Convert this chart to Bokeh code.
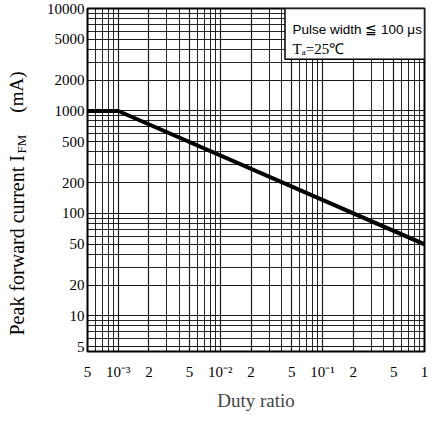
import math
from bokeh.plotting import figure
from bokeh.models import FixedTicker, Label, Range1d
from bokeh.layouts import row
from bokeh.core.properties import value
from bokeh.embed import file_html
from bokeh.resources import INLINE

# ---- data ----
duty = [5e-4, 1e-3, 1.0]
current = [1000, 1000, 50]

x_ticks = [5e-4, 1e-3, 2e-3, 5e-3, 1e-2, 2e-2, 5e-2, 1e-1, 2e-1, 5e-1, 1.0]
x_tick_labels = ["5", "10⁻³", "2", "5", "10⁻²", "2", "5", "10⁻¹", "2", "5", "1"]
y_ticks = [5, 10, 20, 50, 100, 200, 500, 1000, 2000, 5000, 10000]
y_tick_labels = ["5", "10", "20", "50", "100", "200", "500", "1000", "2000", "5000", "10000"]

x_minor = [m * 10.0 ** e for e in range(-4, 1) for m in range(1, 10)]
x_minor = [v for v in x_minor if 5e-4 <= v <= 1.0 and all(abs(v - t) / t > 1e-6 for t in x_ticks)]
y_minor = [m * 10.0 ** e for e in range(0, 5) for m in range(1, 10)]
y_minor = [v for v in y_minor if 4.5 <= v <= 10000 and all(abs(v - t) / t > 1e-6 for t in y_ticks)]

serif = "Liberation Serif"
H = 413
LW = 30
TOP = 8
BOTTOM = 62

p = figure(width=430 - LW, height=H, x_axis_type="log", y_axis_type="log",
           x_range=Range1d(5e-4, 1.0), y_range=Range1d(4.5, 10000),
           output_backend="svg", toolbar_location=None,
           min_border_left=87 - LW, min_border_right=6,
           min_border_top=TOP, min_border_bottom=BOTTOM)
p.background_fill_color = "white"
p.border_fill_color = "white"
p.outline_line_color = "black"
p.outline_line_width = 2

p.xaxis.ticker = FixedTicker(ticks=x_ticks, minor_ticks=x_minor)
p.yaxis.ticker = FixedTicker(ticks=y_ticks, minor_ticks=y_minor)
p.xaxis.major_label_overrides = {t: l for t, l in zip(x_ticks, x_tick_labels)}
p.yaxis.major_label_overrides = {t: l for t, l in zip(y_ticks, y_tick_labels)}

for ax in (p.xaxis, p.yaxis):
    ax.axis_line_color = None
    ax.major_tick_line_color = None
    ax.minor_tick_line_color = None
    ax.major_tick_out = 0
    ax.major_tick_in = 0
    ax.minor_tick_out = 0
    ax.minor_tick_in = 0
    ax.major_label_text_font = serif
    ax.major_label_text_font_size = "15px"
    ax.major_label_text_color = "black"
p.yaxis.major_label_standoff = 3
p.xaxis.major_label_standoff = 12

p.xaxis.axis_label = "Duty ratio"
p.xaxis.axis_label_text_font = serif
p.xaxis.axis_label_text_font_style = "normal"
p.xaxis.axis_label_text_font_size = "19px"
p.xaxis.axis_label_standoff = 7

for g in (p.xgrid, p.ygrid):
    g.grid_line_color = "black"
    g.grid_line_width = 1.2
    g.grid_line_alpha = 0.9
    g.minor_grid_line_color = "black"
    g.minor_grid_line_width = 1
    g.minor_grid_line_alpha = 0.85

# characteristic curve
p.line(duty, current, line_color="black", line_width=4)

# condition box
p.quad(left=0.043, right=1.0, bottom=3200, top=10000,
       fill_color="white", line_color="black", line_width=1.5)
p.add_layout(Label(x=0.051, y=6300, text="Pulse width ≦ 100 μs",
                   text_font="Liberation Sans", text_font_size="13.5px",
                   text_baseline="middle", text_color="black"))
p.add_layout(Label(x=0.051, y=4000, text="Tₐ=25℃",
                   text_font=serif, text_font_size="15px",
                   text_baseline="middle", text_color="black"))

# y-axis title (with subscript) in a narrow panel left of the chart;
# its frame is aligned with the chart's frame, so y runs in page pixels
t = figure(width=LW, height=H, x_range=Range1d(0, LW), y_range=Range1d(H - BOTTOM, TOP),
           output_backend="svg", toolbar_location=None,
           min_border_left=0, min_border_right=0, min_border_top=TOP, min_border_bottom=BOTTOM)
t.axis.visible = False
t.grid.visible = False
t.outline_line_color = None
t.background_fill_color = "white"
t.border_fill_color = "white"
t.text(x=[16], y=[335], text=["Peak forward current I"], angle=math.pi / 2,
       text_font=value(serif), text_font_size="20px", text_align="left",
       text_baseline="middle", text_color="black")
t.text(x=[21], y=[153], text=["FM"], angle=math.pi / 2,
       text_font=value(serif), text_font_size="13px", text_align="left",
       text_baseline="middle", text_color="black")
t.text(x=[16], y=[71], text=["(mA)"], angle=math.pi / 2,
       text_font=value(serif), text_font_size="19px", text_align="right",
       text_baseline="middle", text_color="black")

layout = row(t, p)
open("out.html", "w").write(file_html(layout, INLINE))
